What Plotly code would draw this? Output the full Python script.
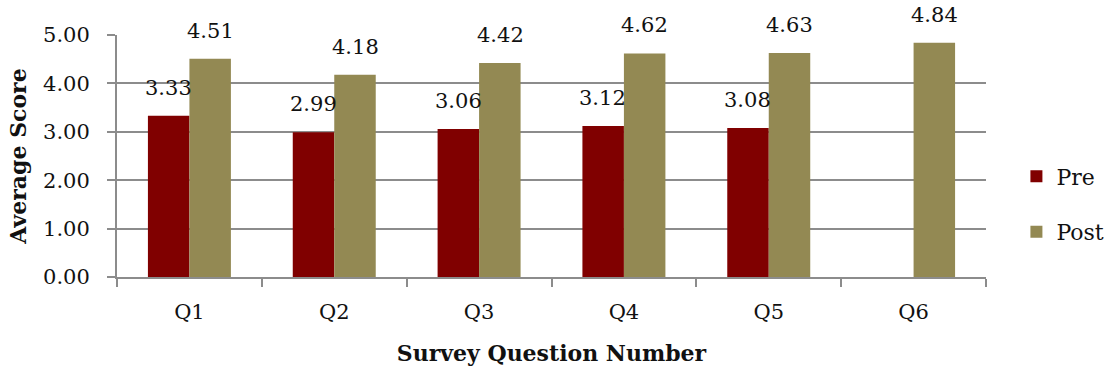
import plotly.graph_objects as go

questions = ["Q1", "Q2", "Q3", "Q4", "Q5", "Q6"]
pre_scores = [3.33, 2.99, 3.06, 3.12, 3.08, None]
post_scores = [4.51, 4.18, 4.42, 4.62, 4.63, 4.84]
y_ticks = [0, 1, 2, 3, 4, 5]

PRE_COLOR = "#800000"
POST_COLOR = "#938953"
GRID = "#8c8c8c"
FONT = "DejaVu Serif"

fig = go.Figure()
fig.add_trace(go.Bar(name="Pre", x=questions, y=pre_scores,
                     marker=dict(color=PRE_COLOR, line=dict(width=0)),
                     legendgroup="pre"))
fig.add_trace(go.Bar(name="Post", x=questions, y=post_scores,
                     marker=dict(color=POST_COLOR, line=dict(width=0)),
                     legendgroup="post"))

# value labels floating above each bar
annotations = []
for series, shift in ((pre_scores, -21), (post_scores, 21)):
    for q, v in zip(questions, series):
        if v is None:
            continue
        annotations.append(dict(x=q, y=v, xref="x", yref="y", text=f"{v:.2f}",
                                showarrow=False, xshift=shift, yshift=28,
                                font=dict(family=FONT, size=21, color="#111")))

fig.update_layout(
    width=1111, height=373,
    margin=dict(l=117, r=125, t=35, b=96, autoexpand=False),
    paper_bgcolor="white", plot_bgcolor="white",
    barmode="group", bargap=0.427, bargroupgap=0,
    font=dict(family=FONT, size=21, color="#111"),
    annotations=annotations,
    legend=dict(x=1.035, y=0.30, xanchor="left", yanchor="middle",
                tracegroupgap=24, font=dict(family=FONT, size=22),
                itemwidth=30),
    xaxis=dict(
        title=dict(text="<b>Survey Question Number</b>",
                   font=dict(family=FONT, size=22), standoff=22),
        showline=True, linecolor=GRID, linewidth=2,
        tickson="boundaries", ticks="outside", ticklen=8,
        tickcolor=GRID, tickwidth=2, showgrid=False,
        ticklabelstandoff=15, automargin=False,
        tickfont=dict(family=FONT, size=21),
    ),
    yaxis=dict(
        title=dict(text="<b>Average Score</b>",
                   font=dict(family=FONT, size=22), standoff=10),
        range=[0, 5], tickvals=y_ticks,
        tickformat=".2f", showline=True, linecolor=GRID, linewidth=2,
        ticks="outside", ticklen=8, tickcolor=GRID, tickwidth=2,
        ticklabelstandoff=13, automargin=False,
        showgrid=True, gridcolor=GRID, gridwidth=2, zeroline=False,
        tickfont=dict(family=FONT, size=21),
    ),
)

fig.write_html("out.html")
